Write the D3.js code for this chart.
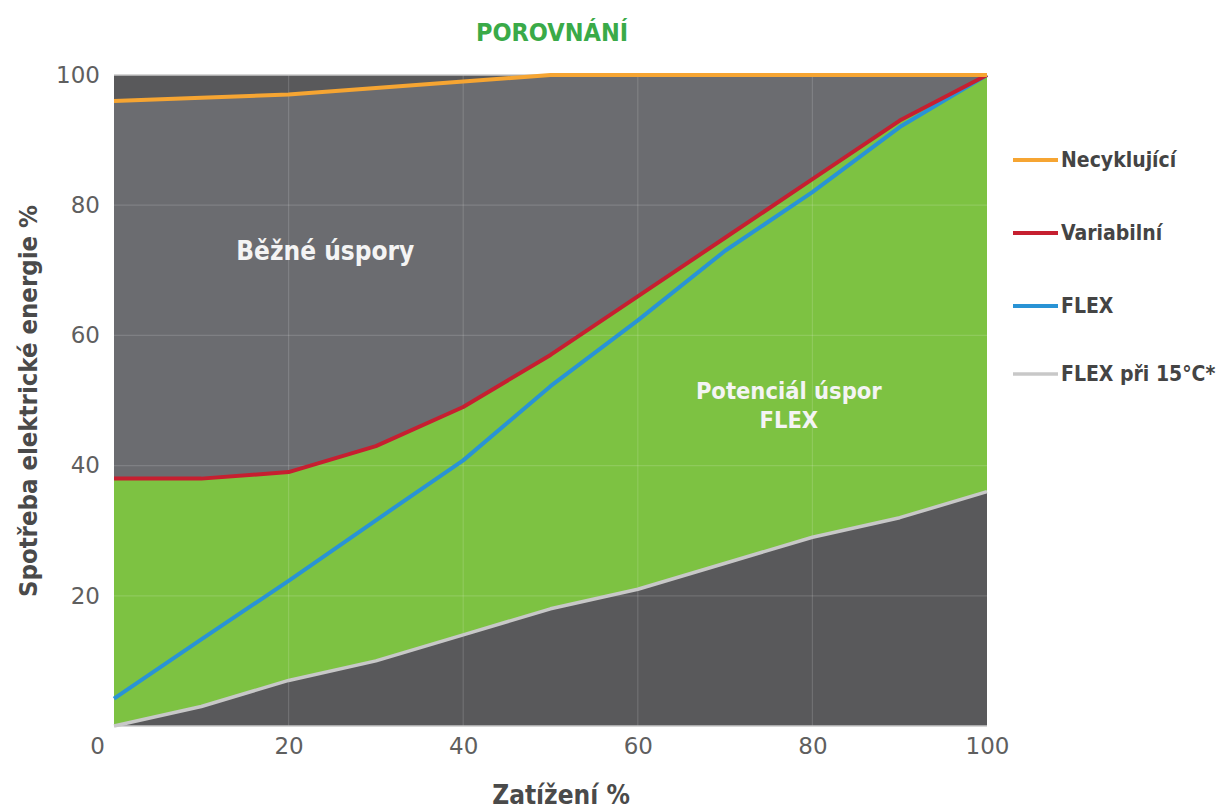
<!DOCTYPE html>
<html>
<head>
<meta charset="utf-8">
<script src="https://cdn.jsdelivr.net/npm/d3@7"></script>
<style>
  body { margin: 0; background: #fff; }
  text { font-family: "DejaVu Sans", Verdana, sans-serif; }
</style>
</head>
<body>
<div id="myPlot"></div>
<script>
// Dimensions
const width = 1228;
const height = 812;
const margin = {top: 75, right: 241, bottom: 86, left: 114};
const xMax = width - margin.left - margin.right;
const yMax = height - margin.top - margin.bottom;

// Data
const load = [0, 10, 20, 30, 40, 50, 60, 70, 80, 90, 100];
const necyklujici = [96, 96.5, 97, 98, 99, 100, 100, 100, 100, 100, 100];
const variabilni = [38, 38, 39, 43, 49, 57, 66, 75, 84, 93, 100];
const flex = [4.2, 13.3, 22.3, 31.6, 40.8, 52.2, 62.3, 73, 82, 92, 100];
const flex15 = [0, 3, 7, 10, 14, 18, 21, 25, 29, 32, 36];
const xTicks = [0, 20, 40, 60, 80, 100];
const yTicks = [20, 40, 60, 80, 100];

const svg = d3.select("#myPlot")
  .append("svg")
  .attr("width", width)
  .attr("height", height);

const g = svg.append("g")
  .attr("transform", `translate(${margin.left},${margin.top})`);

const x = d3.scaleLinear().domain([0, 100]).range([0, xMax]);
const y = d3.scaleLinear().domain([0, 100]).range([yMax, 0]);

// dark background of plot
g.append("rect")
  .attr("width", xMax)
  .attr("height", yMax)
  .style("fill", "#59595b");

// Běžné úspory area (between orange and red)
const areaGrey = d3.area()
  .x((d, i) => x(load[i]))
  .y0((d, i) => y(variabilni[i]))
  .y1(d => y(d));
g.append("path")
  .datum(necyklujici)
  .attr("d", areaGrey)
  .style("fill", "#6b6c70");

// Potenciál úspor FLEX area (between red and light grey)
const areaGreen = d3.area()
  .x((d, i) => x(load[i]))
  .y0((d, i) => y(flex15[i]))
  .y1(d => y(d));
g.append("path")
  .datum(variabilni)
  .attr("d", areaGreen)
  .style("fill", "#7dc242");

// grid
g.selectAll(".vgrid")
  .data(xTicks.slice(1, -1))
  .enter()
  .append("line")
  .attr("x1", d => x(d)).attr("x2", d => x(d))
  .attr("y1", 0).attr("y2", yMax)
  .style("stroke", "#fff")
  .style("stroke-opacity", 0.14)
  .style("stroke-width", 1.2);

g.selectAll(".hgrid")
  .data(yTicks.slice(0, -1))
  .enter()
  .append("line")
  .attr("x1", 0).attr("x2", xMax)
  .attr("y1", d => y(d)).attr("y2", d => y(d))
  .style("stroke", "#fff")
  .style("stroke-opacity", 0.14)
  .style("stroke-width", 1.2);

// frame lines
g.append("line")
  .attr("x1", 0).attr("x2", xMax).attr("y1", 0).attr("y2", 0)
  .style("stroke", "#c9c9c9").style("stroke-width", 1.5);
g.append("line")
  .attr("x1", 0).attr("x2", xMax).attr("y1", yMax).attr("y2", yMax)
  .style("stroke", "#c9c9c9").style("stroke-width", 1.5);

// Lines
const line = d3.line()
  .x((d, i) => x(load[i]))
  .y(d => y(d));

const series = [
  {name: "Necyklující", values: necyklujici, color: "#f6a532", w: 4},
  {name: "Variabilní", values: variabilni, color: "#c61f30", w: 4},
  {name: "FLEX", values: flex, color: "#2993d5", w: 4},
  {name: "FLEX při 15°C*", values: flex15, color: "#c8c8c8", w: 3.5},
];

// draw grey first so coloured lines sit on top
series.slice().reverse().forEach(s => {
  g.append("path")
    .datum(s.values)
    .attr("d", line)
    .style("fill", "none")
    .style("stroke", s.color)
    .style("stroke-width", s.w)
    .style("stroke-linejoin", "round");
});

// Axes
const xAxis = g.append("g")
  .attr("transform", `translate(0,${yMax})`)
  .call(d3.axisBottom(x).tickValues(xTicks).tickSize(0).tickPadding(12));
xAxis.select(".domain").remove();
xAxis.selectAll("text")
  .style("font-size", "23px")
  .style("fill", "#5f5f5f")
  .style("font-family", "'DejaVu Sans', sans-serif")
  .attr("dx", d => d === 0 ? -17 : 0);

const yAxis = g.append("g")
  .call(d3.axisLeft(y).tickValues(yTicks).tickSize(0).tickPadding(14));
yAxis.select(".domain").remove();
yAxis.selectAll("text")
  .style("font-size", "23px")
  .style("fill", "#5f5f5f")
  .style("font-family", "'DejaVu Sans', sans-serif");

// Title
svg.append("text")
  .attr("x", 552)
  .attr("y", 41)
  .style("text-anchor", "middle")
  .style("font-size", "25px")
  .style("font-weight", "bold")
  .style("font-stretch", "condensed")
  .style("fill", "#3aaa48")
  .text("POROVNÁNÍ");

// axis titles
svg.append("text")
  .attr("x", 561)
  .attr("y", 804)
  .style("text-anchor", "middle")
  .style("font-size", "26px")
  .style("font-weight", "bold")
  .style("font-stretch", "condensed")
  .style("fill", "#4a4a4a")
  .text("Zatížení %");

svg.append("text")
  .attr("transform", `translate(37,401) rotate(-90)`)
  .style("text-anchor", "middle")
  .style("font-size", "25.5px")
  .style("font-weight", "bold")
  .style("font-stretch", "condensed")
  .style("fill", "#4a4a4a")
  .text("Spotřeba elektrické energie %");

// in-chart labels
g.append("text")
  .attr("x", x(24.2))
  .attr("y", y(71.6))
  .style("text-anchor", "middle")
  .style("font-size", "26px")
  .style("font-weight", "bold")
  .style("font-stretch", "condensed")
  .style("fill", "#f4f4f4")
  .text("Běžné úspory");

const potLabel = g.append("text")
  .attr("x", x(77.3))
  .attr("y", y(50.3))
  .style("text-anchor", "middle")
  .style("font-size", "23.5px")
  .style("font-weight", "bold")
  .style("font-stretch", "condensed")
  .style("fill", "#f4f4f4");
potLabel.append("tspan").attr("x", x(77.3)).attr("dy", 0).text("Potenciál úspor");
potLabel.append("tspan").attr("x", x(77.3)).attr("dy", 29).text("FLEX");

// Legend
const legend = svg.append("g")
  .attr("class", "legend")
  .attr("transform", "translate(1013,160)");

const legendRows = [0, 73, 146, 214];
series.forEach((s, i) => {
  legend.append("line")
    .attr("x1", 0).attr("x2", 45)
    .attr("y1", legendRows[i]).attr("y2", legendRows[i])
    .style("stroke", s.color)
    .style("stroke-width", s.w);
  legend.append("text")
    .attr("x", 48)
    .attr("y", legendRows[i])
    .attr("dy", "0.35em")
    .style("font-size", "21px")
    .style("font-weight", "bold")
    .style("font-stretch", "condensed")
    .style("fill", "#444")
    .text(s.name);
});
</script>
</body>
</html>
